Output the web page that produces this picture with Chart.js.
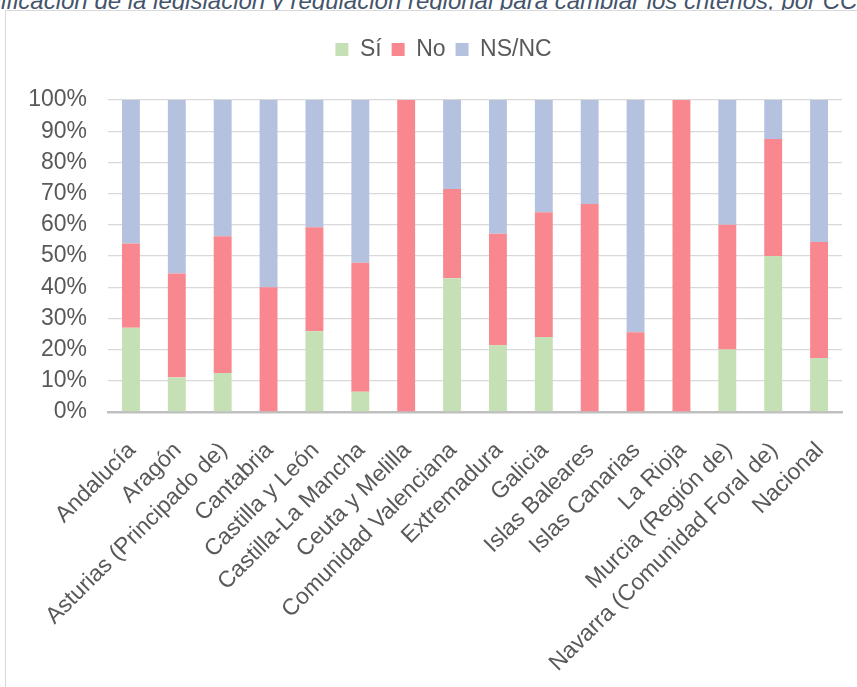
<!DOCTYPE html>
<html>
<head>
<meta charset="utf-8">
<script src="https://cdn.jsdelivr.net/npm/chart.js@4"></script>
<style>
  html, body { margin: 0; padding: 0; background: #fff; width: 857px; height: 687px; overflow: hidden; }
  #title {
    position: absolute; top: -11px; left: 0; white-space: nowrap;
    font: italic 24px "Liberation Sans", Arial, sans-serif; line-height: 23px; color: #44546A;
  }
  #box {
    position: absolute; left: 5px; top: 10px; width: 900px; height: 700px;
    border: 1px solid #D9D9D9; background: #fff;
  }
  #wrap { position: absolute; left: 6px; top: 11px; width: 875px; height: 680px; }
</style>
</head>
<body>
<div id="title">Modificación de la legislación y regulación regional para cambiar los criterios, por CC.AA.</div>
<div id="box"></div>
<div id="wrap"><canvas id="c" width="875" height="680"></canvas></div>
<script>
const categories = [
  "Andalucía", "Aragón", "Asturias (Principado de)", "Cantabria", "Castilla y León",
  "Castilla-La Mancha", "Ceuta y Melilla", "Comunidad Valenciana", "Extremadura", "Galicia",
  "Islas Baleares", "Islas Canarias", "La Rioja", "Murcia (Región de)",
  "Navarra (Comunidad Foral de)", "Nacional"
];
const si   = [27.0, 11.1, 12.5, 0, 25.9, 6.5, 0, 42.9, 21.4, 24.0, 0, 0, 0, 20.0, 50.0, 17.3];
const no   = [27.0, 33.3, 43.8, 40.0, 33.3, 41.3, 100, 28.6, 35.7, 40.0, 66.7, 25.6, 100, 40.0, 37.5, 37.2];
const nsnc = [46.0, 55.6, 43.7, 60.0, 40.8, 52.2, 0, 28.5, 42.9, 36.0, 33.3, 74.4, 0, 40.0, 12.5, 45.5];
const seriesNames = ["Sí", "No", "NS/NC"];
const yTicks = [0, 10, 20, 30, 40, 50, 60, 70, 80, 90, 100];

// shift the cut-off title so "Mod" falls left of the window
const t = document.getElementById("title");
const mctx = document.createElement("canvas").getContext("2d");
mctx.font = 'italic 24px "Liberation Sans", Arial, sans-serif';
t.style.left = (-mctx.measureText("Mod").width + 1) + "px";

const FONT = "'Liberation Sans', Arial, sans-serif";
Chart.defaults.font.family = FONT;
Chart.defaults.color = "#595959";

// extra room under the legend, and centre it on the whole canvas
const legendTweak = {
  id: "legendTweak",
  beforeInit(chart) {
    const fit = chart.legend.fit;
    chart.legend.fit = function () {
      fit.bind(chart.legend)();
      this.height += 29;
    };
  },
  beforeDraw(chart) {
    chart.legend.left = 0;
    chart.legend.right = chart.width;
  }
};

new Chart(document.getElementById("c"), {
  type: "bar",
  data: {
    labels: categories,
    datasets: [
      { label: seriesNames[0], data: si, backgroundColor: "#C5E0B4" },
      { label: seriesNames[1], data: no, backgroundColor: "#F9878F" },
      { label: seriesNames[2], data: nsnc, backgroundColor: "#B4C2E0" }
    ]
  },
  options: {
    responsive: false,
    animation: false,
    layout: { padding: { top: 17, left: 0, right: 39, bottom: 0 } },
    datasets: { bar: { barPercentage: 0.39, categoryPercentage: 1 } },
    plugins: {
      legend: {
        position: "top",
        labels: { boxWidth: 13, boxHeight: 13, padding: 10, font: { size: 23 }, color: "#595959" }
      },
      tooltip: { enabled: false }
    },
    scales: {
      x: {
        stacked: true,
        grid: { display: false },
        border: { display: true, color: "#BFBFBF", width: 2.5 },
        ticks: { minRotation: 45, maxRotation: 45, autoSkip: false, padding: 17, labelOffset: 1, font: { size: 23 }, color: "#595959" },
        afterFit(s) { s.height = 279; }
      },
      y: {
        stacked: true,
        min: 0, max: 100,
        afterBuildTicks(s) { s.ticks = yTicks.map(v => ({ value: v })); },
        grid: { color: "#D9D9D9", lineWidth: 1.3, drawTicks: false },
        border: { display: false },
        ticks: { padding: 21, font: { size: 23 }, color: "#595959", callback: v => v + "%" },
        afterFit(s) { s.width = 102; }
      }
    }
  },
  plugins: [legendTweak]
});
</script>
</body>
</html>
